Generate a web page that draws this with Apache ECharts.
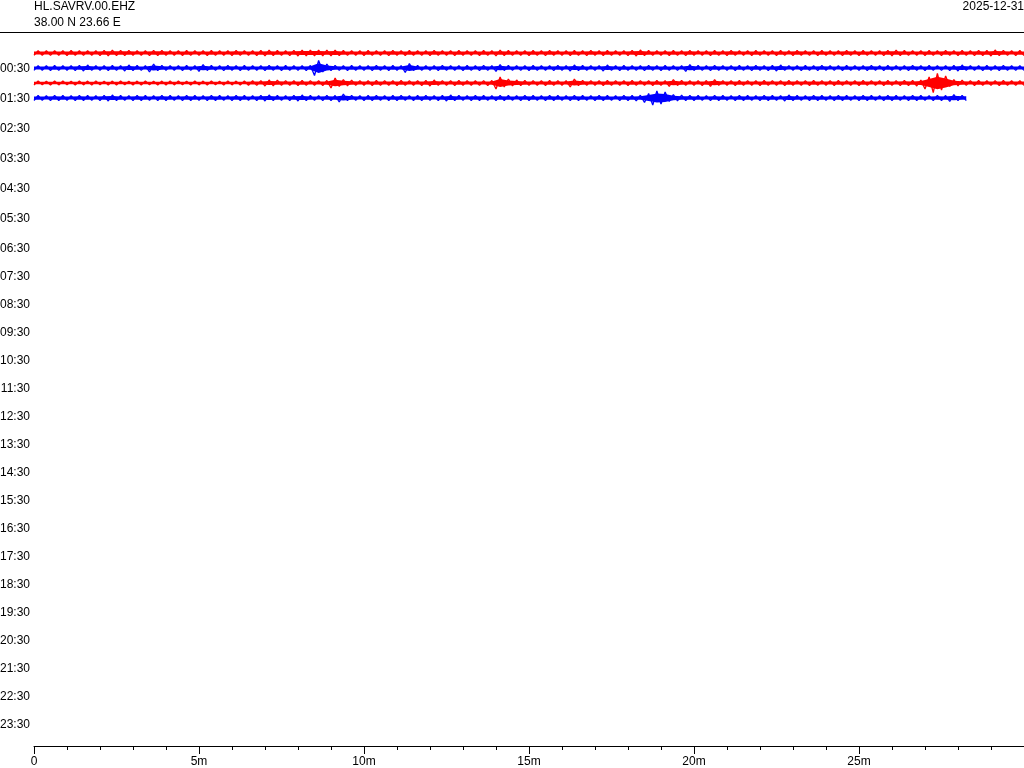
<!DOCTYPE html>
<html>
<head>
<meta charset="utf-8">
<script src="https://cdn.jsdelivr.net/npm/echarts@6/dist/echarts.min.js"></script>
<style>
html,body{margin:0;padding:0;background:#fff;}
#chart{width:1024px;height:768px;}
</style>
</head>
<body>
<div id="chart"></div>
<script>
// ---- metadata ----
const stationCode = 'HL.SAVRV.00.EHZ';
const stationCoords = '38.00 N 23.66 E';
const plotDate = '2025-12-31';

// ---- axis labels ----
const hourLabelsEarly = ['00:30','01:30','02:30','03:30','04:30','05:30','06:30'];
const hourLabelsLate = ['07:30','08:30','09:30','10:30','11:30','12:30','13:30','14:30','15:30','16:30','17:30','18:30','19:30','20:30','21:30','22:30','23:30'];
const minuteTicks = { min: 0, max: 30, step: 5 };

// ---- trace data: envelope amplitude (counts) per 0.25-minute bin ----
const binMinutes = 0.25;
const traceOffset = 15; // counts between successive helicorder lines
const traceColors = ['#ff0000', '#0000ff', '#ff0000', '#0000ff'];

const trace0000 = [
2.3,2.2,2.4,2.3,2.5,2.2,2.4,2.3,2.6,2.8,
2.7,2.6,2.4,2.3,2.7,2.7,2.4,2.3,2.5,2.4,
2.3,2.5,2.4,2.3,2.6,2.4,2.3,2.5,2.8,2.5,
2.4,2.6,3.0,3.0,2.9,2.8,2.9,2.5,2.4,2.3,
2.5,2.4,2.3,2.6,2.4,2.5,2.3,2.4,2.6,2.4,
2.3,2.5,2.4,2.3,2.5,2.4,2.8,2.5,2.4,2.3,
2.5,2.4,2.6,2.3,2.4,2.5,2.3,2.6,2.4,2.5,
2.4,2.3,2.6,3.0,2.5,2.4,2.3,2.5,2.4,2.6,
2.4,2.3,2.5,2.4,2.6,2.4,2.3,2.5,2.4,2.3,
2.5,2.4,2.6,2.3,2.4,2.5,2.3,2.4,2.6,2.4,
2.5,2.4,2.3,2.6,2.8,2.5,2.4,2.3,2.5,2.4,
2.6,2.4,2.5,2.3,2.7,2.5,3.0,2.6,2.4,2.5];

const trace0030 = [
2.4,2.3,2.5,2.4,2.3,2.6,3.0,2.4,2.3,2.5,
2.4,3.0,2.5,2.4,4.0,2.6,2.4,2.3,2.5,2.4,
3.5,2.5,2.4,2.6,2.3,2.5,2.4,2.3,2.6,2.4,
2.5,2.3,2.4,2.6,7.5,4.0,2.6,2.4,2.5,2.3,
2.4,2.6,2.3,2.5,2.4,4.5,2.5,2.3,2.4,2.6,
2.4,2.3,2.5,2.4,2.6,2.4,3.5,2.5,2.3,2.4,
2.5,2.4,2.3,2.6,2.4,3.0,2.5,2.3,2.4,3.0,
2.4,2.5,2.3,2.4,2.6,2.4,2.5,2.3,2.4,3.5,
2.5,2.4,2.6,2.3,2.4,2.5,2.3,2.6,2.4,2.5,
3.0,2.4,2.3,2.5,2.4,2.6,2.3,2.4,2.5,2.3,
2.4,2.6,2.3,2.5,2.4,2.3,2.6,2.4,2.5,2.3,
2.4,2.5,3.0,2.4,2.3,2.5,2.4,2.6,2.3,2.4];

const trace0100 = [
1.9,1.8,2.0,1.9,1.8,2.0,1.9,2.1,1.8,1.9,
2.0,1.8,1.9,2.0,1.8,1.9,2.1,1.9,1.8,2.0,
1.9,2.0,1.8,2.1,1.9,2.0,2.2,2.4,3.0,2.8,
2.4,2.3,2.5,2.4,2.3,2.5,5.0,3.5,2.8,2.4,
2.3,2.5,2.4,2.3,2.5,2.4,2.3,2.5,3.0,2.4,
2.3,2.5,2.4,2.3,2.4,2.5,6.0,4.0,3.0,2.5,
2.4,2.3,2.5,2.4,2.3,4.0,2.6,2.4,2.3,2.5,
2.4,2.3,2.5,2.4,2.3,2.5,2.4,3.5,2.5,2.3,
2.4,2.5,3.5,2.4,2.3,2.5,2.4,2.3,2.5,2.4,
2.3,2.5,2.4,2.3,2.5,2.4,2.3,2.5,2.4,2.3,
2.5,2.4,2.3,2.5,2.4,2.6,2.5,3.0,6.0,9.5,
7.0,3.5,2.8,2.4,2.5,2.3,2.4,2.5,2.3,2.4];

const trace0130 = [
2.5,2.4,2.6,2.5,2.4,2.6,2.5,2.4,2.6,3.0,
2.5,2.4,2.6,2.5,2.4,2.7,2.5,2.4,2.6,2.5,
2.4,2.6,2.5,2.4,2.6,2.5,2.4,2.6,3.0,2.5,
2.4,2.6,3.0,2.5,2.4,2.6,2.5,4.0,2.6,2.4,
2.5,2.6,2.4,2.5,2.6,2.4,2.5,2.6,2.4,2.5,
3.0,2.5,2.4,2.6,2.5,2.4,2.6,2.5,2.4,2.6,
2.5,2.4,2.6,2.5,2.4,2.6,2.5,2.4,2.6,2.5,
2.4,2.6,2.5,2.8,4.5,7.0,6.0,3.5,2.8,2.6,
2.5,2.4,2.6,2.5,2.4,2.6,2.5,2.4,2.6,2.5,
2.4,3.0,2.5,2.4,2.6,2.5,2.4,2.6,2.5,2.4,
2.6,2.5,2.4,2.6,2.5,2.4,2.6,2.5,2.4,2.6,
2.5,3.5,2.6];

const traces = [trace0000, trace0030, trace0100, trace0130];

const FONT = '"Liberation Sans", Arial, Helvetica, sans-serif';
const BAND_FILL = 0.65; // solid core of the envelope band

// zig-zag line through the envelope (alternating +/- amplitude each half bin)
const lineSeries = traces.map((amps, k) => {
  const base = k * traceOffset;
  const data = [];
  amps.forEach((a, i) => {
    data.push([i * binMinutes, base + a]);
    data.push([i * binMinutes + binMinutes / 2, base - a]);
  });
  data.push([amps.length * binMinutes, base + amps[amps.length - 1]]);
  return {
    type: 'line', xAxisIndex: 0, yAxisIndex: 0, data: data,
    showSymbol: false, symbol: 'none', silent: true, z: 3,
    lineStyle: { color: traceColors[k], width: 1.3 },
    animation: false
  };
});

// solid envelope band for each trace (polygon through api.coord)
const bandSeries = {
  type: 'custom', xAxisIndex: 0, yAxisIndex: 0, silent: true, z: 2,
  data: traces.map((_, k) => [k]),
  renderItem: function (params, api) {
    const k = api.value(0);
    const amps = traces[k];
    const base = k * traceOffset;
    const upper = [], lower = [];
    const n = amps.length;
    upper.push(api.coord([0, base - amps[0] * BAND_FILL]));
    lower.push(api.coord([0, base + amps[0] * BAND_FILL]));
    amps.forEach((a, i) => {
      const t = i * binMinutes + binMinutes / 2;
      upper.push(api.coord([t, base - a * BAND_FILL]));
      lower.push(api.coord([t, base + a * BAND_FILL]));
    });
    upper.push(api.coord([n * binMinutes, base - amps[n - 1] * BAND_FILL]));
    lower.push(api.coord([n * binMinutes, base + amps[n - 1] * BAND_FILL]));
    return {
      type: 'polygon',
      shape: { points: upper.concat(lower.reverse()) },
      style: { fill: traceColors[k] }
    };
  },
  animation: false
};

const chart = echarts.init(document.getElementById('chart'), null, { renderer: 'canvas' });
chart.setOption({
  animation: false,
  backgroundColor: '#ffffff',
  textStyle: { fontFamily: FONT },
  title: [
    { text: stationCode, left: 34, top: 0, padding: 0, textStyle: { fontFamily: FONT, fontSize: 12, fontWeight: 'normal', color: '#000', lineHeight: 14 } },
    { text: stationCoords, left: 34, top: 16, padding: 0, textStyle: { fontFamily: FONT, fontSize: 12, fontWeight: 'normal', color: '#000', lineHeight: 14 } },
    { text: plotDate, right: 0, top: 0, padding: 0, textStyle: { fontFamily: FONT, fontSize: 12, fontWeight: 'normal', color: '#000', lineHeight: 14 } }
  ],
  graphic: [
    { type: 'line', shape: { x1: 0, y1: 32.5, x2: 1024, y2: 32.5 }, style: { stroke: '#000', lineWidth: 1 }, silent: true }
  ],
  grid: [
    { left: 34, right: 0, top: 38, bottom: 22, outerBoundsMode: 'none', containLabel: false },
    { left: 34, right: 0, top: 54, height: 210, outerBoundsMode: 'none', containLabel: false },
    { left: 34, right: 0, top: 263, height: 476, outerBoundsMode: 'none', containLabel: false }
  ],
  xAxis: [
    {
      gridIndex: 0, type: 'value', min: minuteTicks.min, max: minuteTicks.max, interval: minuteTicks.step,
      axisLine: { show: true, onZero: false, lineStyle: { color: '#000', width: 1 } },
      axisTick: { show: true, length: 8, lineStyle: { color: '#000' } },
      minorTick: { show: true, splitNumber: 5, length: 4, lineStyle: { color: '#000' } },
      splitLine: { show: false },
      axisLabel: {
        color: '#000', fontSize: 12, fontFamily: FONT, margin: 10, showMaxLabel: false,
        formatter: v => (v === 0 ? '0' : v + 'm')
      }
    },
    { gridIndex: 1, type: 'value', show: false },
    { gridIndex: 2, type: 'value', show: false }
  ],
  yAxis: [
    {
      gridIndex: 0, type: 'value', inverse: true, min: -traceOffset, max: 708 - traceOffset,
      show: false, splitLine: { show: false }
    },
    {
      gridIndex: 1, type: 'category', inverse: true, data: hourLabelsEarly,
      axisLine: { show: false }, axisTick: { show: false }, splitLine: { show: false },
      axisLabel: { color: '#000', fontSize: 12, fontFamily: FONT, margin: 4 }
    },
    {
      gridIndex: 2, type: 'category', inverse: true, data: hourLabelsLate,
      axisLine: { show: false }, axisTick: { show: false }, splitLine: { show: false },
      axisLabel: { color: '#000', fontSize: 12, fontFamily: FONT, margin: 4 }
    }
  ],
  series: [bandSeries].concat(lineSeries)
});
</script>
</body>
</html>
